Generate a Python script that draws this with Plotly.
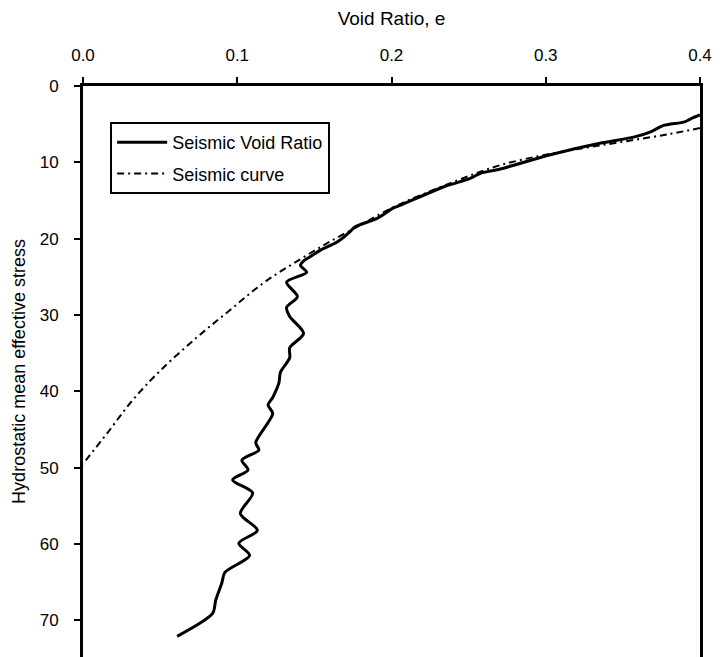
import plotly.graph_objects as go

# Seismic void ratio (solid, measured) - stress vs void ratio
void_ratio_e = [0.400, 0.394, 0.390, 0.376, 0.368, 0.357, 0.335, 0.303, 0.270, 0.258,
                0.251, 0.234, 0.206, 0.201, 0.191, 0.176, 0.173, 0.165, 0.154, 0.147,
                0.143, 0.141, 0.145, 0.132, 0.139, 0.132, 0.134, 0.143, 0.134, 0.134,
                0.128, 0.127, 0.123, 0.120, 0.123, 0.112, 0.114, 0.103, 0.107, 0.097,
                0.110, 0.102, 0.113, 0.101, 0.108, 0.092, 0.090, 0.086, 0.084, 0.061]
void_ratio_p = [3.8, 4.3, 4.7, 5.2, 6.0, 6.7, 7.5, 9.0, 10.9, 11.4,
                12.1, 13.2, 15.6, 16.0, 17.3, 18.5, 19.1, 20.4, 21.5, 22.4,
                22.9, 23.5, 24.4, 25.7, 27.6, 29.0, 30.2, 32.4, 34.3, 35.6,
                37.5, 38.9, 40.8, 41.8, 42.9, 46.7, 47.7, 49.0, 50.3, 51.6,
                53.3, 56.0, 58.2, 59.9, 61.5, 63.7, 65.1, 67.4, 69.1, 72.1]

# Seismic curve (dash-dot fit)
curve_e = [0.400, 0.380, 0.350, 0.300, 0.270, 0.250, 0.220, 0.200, 0.180, 0.160,
           0.140, 0.117, 0.095, 0.074, 0.050, 0.032, 0.016, 0.000]
curve_p = [5.5, 6.3, 7.3, 9.0, 10.4, 11.8, 14.2, 16.0, 18.2, 20.4,
           22.8, 25.8, 29.4, 32.9, 37.3, 41.2, 45.4, 49.5]

x_ticks = [0.0, 0.1, 0.2, 0.3, 0.4]
y_ticks = [0, 10, 20, 30, 40, 50, 60, 70]

fig = go.Figure()
fig.add_trace(go.Scatter(x=void_ratio_e, y=void_ratio_p, mode='lines',
                         name='Seismic Void Ratio', legendgroup='svr',
                         line=dict(color='black', width=3, shape='spline', smoothing=0.8)))
fig.add_trace(go.Scatter(x=curve_e, y=curve_p, mode='lines', name='Seismic curve',
                         legendgroup='sc',
                         line=dict(color='black', width=2, dash='7px,4px,2px,4px',
                                   shape='spline')))

font = "Liberation Sans, Arial, sans-serif"
# page body has an 8px margin, so margins are offset to keep the plot area in place
fig.update_layout(
    width=720, height=657,
    margin=dict(l=75, r=28, t=78, b=8, autoexpand=False),
    plot_bgcolor='white', paper_bgcolor='white',
    font=dict(family=font, size=17, color='black'),
    showlegend=True,
    legend=dict(x=0.044, y=0.937, xanchor='left', yanchor='top',
                bordercolor='black', borderwidth=2, bgcolor='white',
                font=dict(size=18), itemwidth=50, tracegroupgap=5),
    xaxis=dict(side='top', range=[0, 0.4], tickvals=x_ticks, tickformat='.1f',
               showgrid=False, zeroline=False, automargin=False,
               showline=True, linecolor='black', linewidth=3, mirror=True,
               ticks='outside', ticklen=6, tickwidth=2, tickcolor='black',
               ticklabelstandoff=9,
               title=dict(text='Void Ratio, e', font=dict(size=19), standoff=20)),
    yaxis=dict(range=[74.8, 0], tickvals=y_ticks,
               showgrid=False, zeroline=False, automargin=False,
               showline=True, linecolor='black', linewidth=3, mirror=True,
               ticks='outside', ticklen=6, tickwidth=2, tickcolor='black',
               ticklabelstandoff=12,
               title=dict(text='Hydrostatic mean effective stress', font=dict(size=18),
                          standoff=10)),
)

fig.write_html("out.html")
